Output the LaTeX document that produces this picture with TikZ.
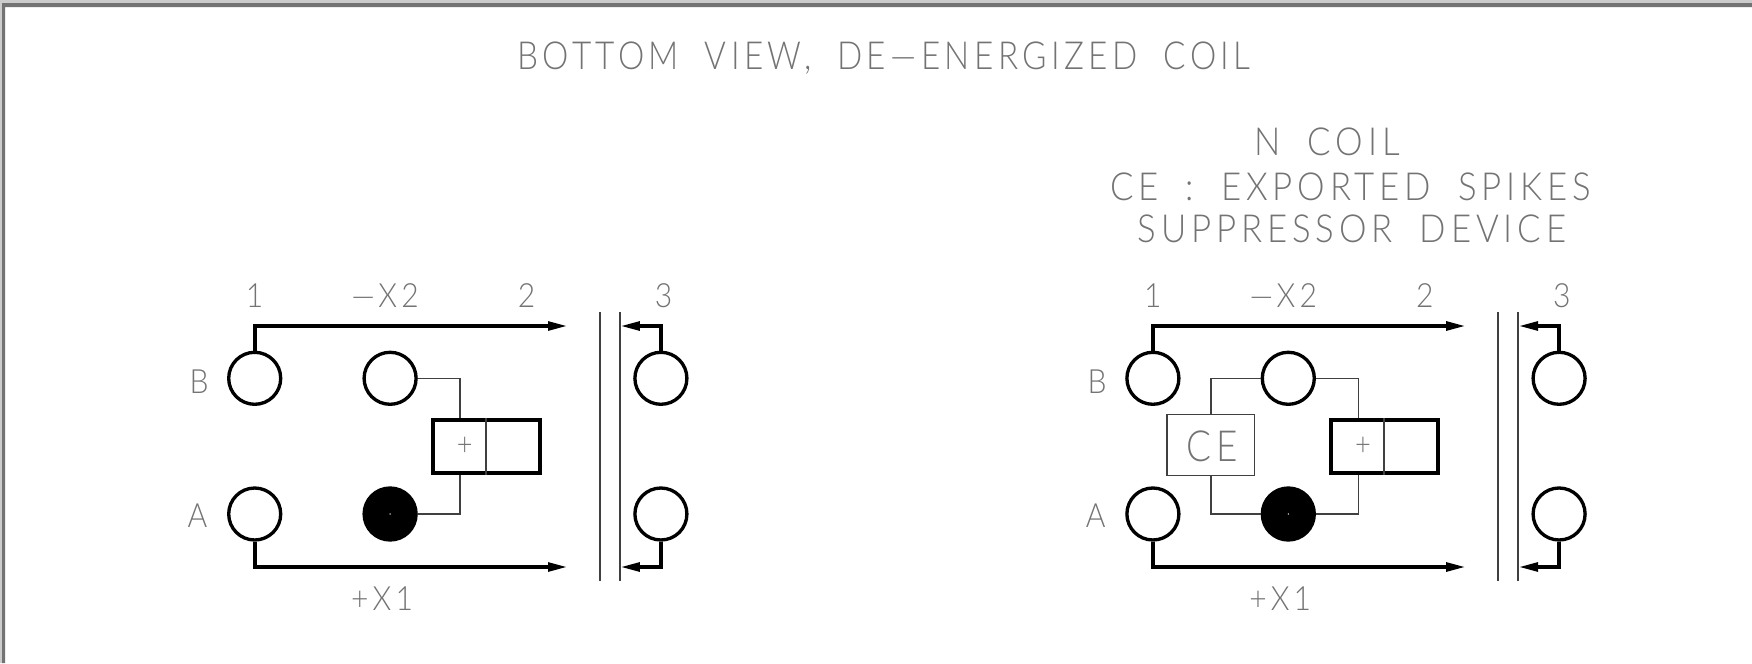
\documentclass[tikz,border=0pt]{standalone}
\usepackage{fontspec}
\usetikzlibrary{arrows.meta}
\newfontfamily\cadfont[FakeStretch=0.86,LetterSpace=11.5,WordSpace=1.9]{Lato Light}
\newfontfamily\notefont[FakeStretch=0.9,LetterSpace=12.5,WordSpace=1.9]{Lato Light}
\tikzset{
    pin/.style={circle, draw, line width=.95pt, minimum size=.52cm, inner sep=0pt},
    bus/.style={line width=1.1pt, -{Triangle[length=.2cm, width=.085cm]}},
    wire/.style={line width=.4pt, black!75},
    relay/.style={draw, line width=1.1pt, minimum width=1.07cm, minimum height=.527cm, inner sep=0pt},
    suppressor/.style={draw, line width=.4pt, black!75, minimum width=.877cm, minimum height=.61cm, inner sep=0pt},
    cad/.style={anchor=base, text=black!55, inner sep=0pt, font=\cadfont\fontsize{11}{12}\selectfont},
    note/.style={cad, font=\notefont\fontsize{11}{12}\selectfont},
    pinlabel/.style={cad, font=\notefont\fontsize{9.5}{12}\selectfont},
}
\begin{document}
\begin{tikzpicture}
    \useasboundingbox (0, 0) rectangle (17.52, 6.63);

    % window edge
    \fill[black!20] (0, 0) -- (0, 6.63) -- (17.52, 6.63) -- (17.52, 6.595) -- (.025, 6.595) -- (.025, 0) -- cycle;
    \fill[black!55] (.02, 0) -- (.02, 6.6) -- (17.52, 6.6) -- (17.52, 6.56) -- (.05, 6.56) -- (.05, 0) -- cycle;

    \node[cad] (title) at (8.84, 5.94) {BOTTOM VIEW, DE—ENERGIZED COIL};
    \node[note] (note1) at (13.27, 5.08) {N COIL};
    \node[note] (note2) at (13.507, 4.623) {CE : EXPORTED SPIKES};
    \node[note] (note3) at (13.52, 4.203) {SUPPRESSOR DEVICE};

    \foreach \side/\dx in {L/0, R/8.982} {
        \begin{scope}[xshift=\dx cm]
            \node[pin] (pb\side) at (2.547, 2.847) {};
            \node[pin] (pa\side) at (2.547, 1.49) {};
            \node[pin] (xt\side) at (3.901, 2.847) {};
            \node[pin, fill=black] (xb\side) at (3.901, 1.49) {};
            \node[pin] (tb\side) at (6.609, 2.847) {};
            \node[pin] (ta\side) at (6.609, 1.49) {};

            \coordinate (endb\side) at (5.68, 3.37);
            \coordinate (enda\side) at (5.68, .96);
            \coordinate (tipb\side) at (6.198, 3.37);
            \coordinate (tipa\side) at (6.198, .96);
            \coordinate (wallp\side) at (5.999, 3.51);
            \coordinate (wallq\side) at (5.999, .823);
            \coordinate (walls\side) at (6.198, 3.51);
            \coordinate (wallt\side) at (6.198, .823);

            \draw[bus] (pb\side.north) |- (endb\side);
            \draw[bus] (pa\side.south) |- (enda\side);
            \draw[bus] (tb\side.north) |- (tipb\side);
            \draw[bus] (ta\side.south) |- (tipa\side);
            \draw[wire, line width=.55pt] (wallp\side) -- (wallq\side);
            \draw[wire, line width=.55pt] (walls\side) -- (wallt\side);

            \node[relay] (coil\side) at (4.861, 2.167) {};
            \draw[wire, line width=.55pt] (coil\side.north) -- (coil\side.south);
            \node[cad, anchor=center, font=\cadfont\fontsize{9}{9}\selectfont] (plus\side) at (4.648, 2.165) {+};
            \draw[wire] (xt\side.east) -| ([xshift=-.26cm]coil\side.north);
            \draw[wire] (xb\side.east) -| ([xshift=-.26cm]coil\side.south);
            \fill[white] (xb\side.center) circle [radius=.007];

            \node[pinlabel] (one\side) at (2.547, 3.557) {1};
            \node[pinlabel] (mx\side) at (3.85, 3.557) {—X2};
            \node[pinlabel] (two\side) at (5.266, 3.557) {2};
            \node[pinlabel] (three\side) at (6.635, 3.557) {3};
            \node[pinlabel] (nb\side) at (1.99, 2.697) {B};
            \node[pinlabel] (na\side) at (1.974, 1.357) {A};
            \node[pinlabel] (px\side) at (3.82, .523) {+X1};
        \end{scope}
    }

    \node[suppressor] (ce) at (12.108, 2.178) {};
    \node[cad, font=\cadfont\fontsize{12.2}{14}\selectfont] (celabel) at (12.12, 2.02) {CE};
    \draw[wire] (xtR.west) -| (ce.north);
    \draw[wire] (xbR.west) -| (ce.south);
\end{tikzpicture}
\end{document}
